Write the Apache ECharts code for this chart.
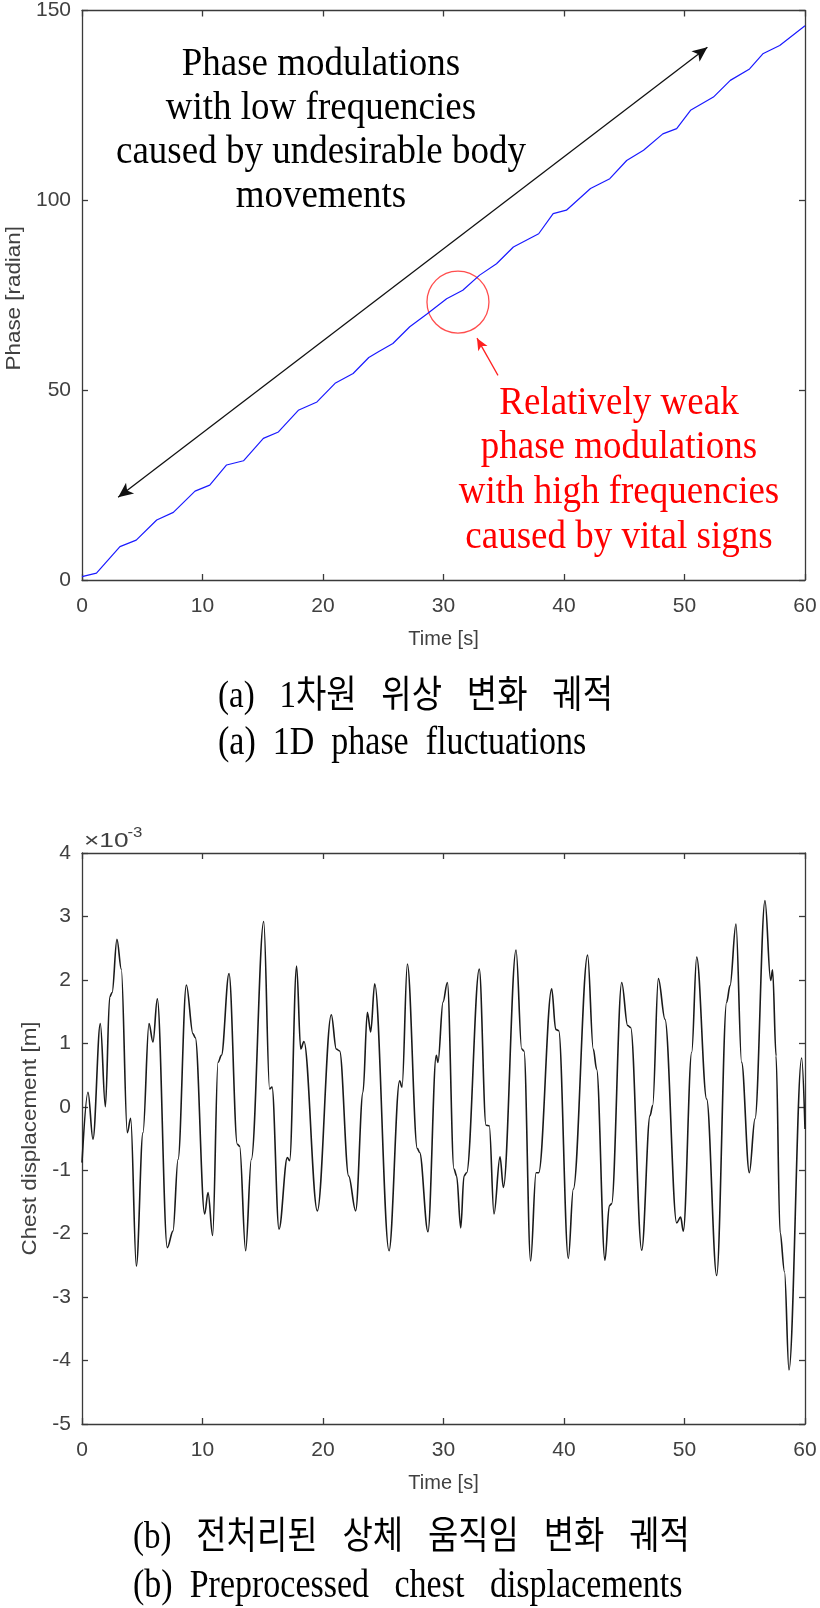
<!DOCTYPE html>
<html>
<head>
<meta charset="utf-8">
<script src="https://cdn.jsdelivr.net/npm/echarts@6/dist/echarts.min.js"></script>
<style>
html,body{margin:0;padding:0;background:#fff;}
#chart{width:820px;height:1608px;}
</style>
</head>
<body>
<div id="chart"></div>
<script>
// ---------- data (a): 1D phase [radian] vs time [s] ----------
var phaseTime  = [0, 1.2, 3.15, 4.5, 6.2, 7.58, 9.38, 10.6, 12.0, 13.4, 15.05, 16.3, 17.95, 19.5, 21.0, 22.5, 23.8, 24.6, 25.8, 27.2, 28.6, 30.26, 31.6, 33.0, 34.4, 35.8, 37.9, 39.1, 40.2, 42.2, 43.8, 45.2, 46.6, 48.2, 49.35, 50.5, 52.4, 53.8, 55.4, 56.5, 57.9, 60];
var phaseValue = [0.9, 1.8, 8.8, 10.5, 15.8, 17.8, 23.4, 25.0, 30.3, 31.4, 37.3, 39.0, 44.7, 46.9, 51.8, 54.4, 58.6, 60.1, 62.3, 66.7, 70.0, 74.1, 76.3, 80.3, 83.3, 87.7, 91.2, 96.5, 97.4, 103.1, 105.7, 110.5, 113.2, 117.5, 118.9, 123.7, 127.2, 131.6, 134.6, 138.6, 140.8, 146];

// ---------- data (b): chest displacement [x10^-3 m] vs time [s] ----------
var chestTime  = [0, 0.5, 0.91, 1.52, 1.94, 2.3, 2.5, 2.9, 3.26, 3.76, 4.04, 4.51, 5.06, 5.56, 5.89, 6.25, 7.08, 7.55, 7.97, 8.66, 9.21, 9.4, 10.18, 10.46, 10.84, 11.29, 11.57, 12.2, 12.89, 13.08, 13.58, 14.05, 15.08, 15.57, 15.77, 16.35, 17.04, 17.23, 17.81, 18.15, 18.42, 19.53, 20.69, 21.1, 21.38, 22.13, 22.71, 23.32, 23.68, 23.96, 24.29, 25.48, 26.36, 26.56, 27.0, 27.83, 28.02, 28.71, 29.4, 29.54, 29.96, 30.32, 30.87, 31.09, 31.43, 31.7, 31.92, 32.97, 33.53, 33.8, 34.19, 34.69, 34.97, 36.02, 36.49, 36.68, 37.23, 37.68, 37.9, 38.98, 39.31, 39.56, 40.36, 40.77, 41.96, 42.43, 42.71, 43.4, 43.76, 43.95, 44.79, 45.28, 45.53, 46.45, 47.14, 47.36, 47.83, 48.38, 49.35, 49.68, 49.9, 50.6, 51.01, 51.84, 52.67, 53.5, 53.78, 54.27, 54.74, 55.38, 55.85, 56.68, 57.15, 57.31, 57.6, 57.93, 58.3, 58.67, 59.72, 60];
var chestValue = [-0.88, 0.23, -0.51, 1.31, 0.0, 1.73, 1.8, 2.64, 2.17, -0.41, -0.18, -2.51, -0.41, 1.31, 1.02, 1.70, -2.22, -1.96, -0.83, 1.92, 1.15, 1.09, -1.69, -1.35, -2.03, 0.70, 0.81, 2.1, -0.59, -0.62, -2.27, -0.83, 2.92, 0.28, 0.31, -1.93, -0.8, -0.85, 2.22, 0.91, 1.03, -1.64, 1.45, 0.91, 0.88, -1.09, -1.64, 0.23, 1.49, 1.18, 1.94, -2.27, 0.41, 0.31, 2.25, -0.66, -0.72, -1.97, 0.81, 0.70, 1.65, 1.96, -0.98, -1.09, -1.91, -1.09, -1.04, 2.17, -0.29, -0.3, -1.69, -0.79, -1.27, 2.47, 0.91, 0.88, -2.43, -1.04, -1.04, 1.86, 1.22, 1.2, -2.39, -1.3, 2.39, 0.91, 0.59, -2.42, -1.56, -1.53, 1.96, 1.28, 1.25, -2.26, -0.14, 0.02, 2.02, 1.38, -1.83, -1.74, -1.96, 0.86, 2.36, 0.12, -2.66, 1.65, 1.91, 2.88, 0.70, -1.04, -0.19, 3.25, 1.99, 2.16, 0.8, -1.98, -2.6, -4.15, 0.77, -0.35];

// ---------- axes ticks ----------
var timeTicks = {min: 0, max: 60, interval: 10};
var phaseTicks = {min: 0, max: 150, interval: 50};
var chestTicks = {min: -5, max: 4, interval: 1};
var phaseAxisName = 'Phase [radian]';
var chestAxisName = 'Chest displacement [m]';
var timeAxisName = 'Time [s]';

// ---------- annotations (data coordinates of chart a) ----------
var bigArrow = [[3.0, 21.8], [51.9, 140.3]];
var redArrow = [[34.52, 53.9], [32.78, 63.7]];
var redCircle = [31.2, 73.2];
var blackNoteAt = [19.83, 118.4];
var redNoteAt = [44.56, 28.9];
var blackNote = 'Phase modulations\nwith low frequencies\ncaused by undesirable body\nmovements';
var redNote = 'Relatively weak\nphase modulations\nwith high frequencies\ncaused by vital signs';

var captionA1 = '(a)   1차원   위상   변화   궤적';
var captionA2 = '(a)  1D  phase  fluctuations';
var captionB1 = '(b)   전처리된   상체   움직임   변화   궤적';
var captionB2 = '(b)  Preprocessed   chest   displacements';

function zip(a, b) { return a.map(function (v, i) { return [v, b[i]]; }); }

var AX = '#3a3a3a', LBL = '#404040', SANS = 'Liberation Sans, Arial, sans-serif';
var SERIF = 'Liberation Serif, Times New Roman, serif';
var FS = 21;

function axisLineStyle() { return {onZero: false, lineStyle: {color: AX, width: 1.3}}; }
function tickStyle() { return {inside: true, length: 6, lineStyle: {color: AX, width: 1.3}}; }

function xAxes(grid) {
  return [
    {gridIndex: grid, type: 'value', min: timeTicks.min, max: timeTicks.max, interval: timeTicks.interval,
     name: timeAxisName, nameLocation: 'middle', nameGap: 49,
     nameTextStyle: {color: LBL, fontSize: 20, fontFamily: SANS},
     axisLine: axisLineStyle(), axisTick: tickStyle(),
     axisLabel: {margin: 16, color: LBL, fontSize: FS, fontFamily: SANS}, splitLine: {show: false}},
    {gridIndex: grid, type: 'value', position: 'top', min: timeTicks.min, max: timeTicks.max, interval: timeTicks.interval,
     axisLine: axisLineStyle(), axisTick: tickStyle(),
     axisLabel: {show: false}, splitLine: {show: false}}
  ];
}
function yAxes(grid, ticks) {
  return [
    {gridIndex: grid, type: 'value', min: ticks.min, max: ticks.max, interval: ticks.interval,
     axisLine: axisLineStyle(), axisTick: tickStyle(),
     axisLabel: {margin: 11, color: LBL, fontSize: FS, fontFamily: SANS}, splitLine: {show: false}},
    {gridIndex: grid, type: 'value', position: 'right', min: ticks.min, max: ticks.max, interval: ticks.interval,
     axisLine: axisLineStyle(), axisTick: tickStyle(),
     axisLabel: {show: false}, splitLine: {show: false}}
  ];
}

var chart = echarts.init(document.getElementById('chart'), null, {renderer: 'canvas'});
chart.setOption({
  animation: false,
  backgroundColor: '#fff',
  grid: [
    {left: 82, right: 15, top: 10, height: 570},
    {left: 82, right: 15, top: 853, height: 571}
  ],
  xAxis: xAxes(0).concat(xAxes(1)),
  yAxis: yAxes(0, phaseTicks).concat(yAxes(1, chestTicks)),
  series: [
    {type: 'line', xAxisIndex: 0, yAxisIndex: 0, data: zip(phaseTime, phaseValue), showSymbol: false,
     lineStyle: {color: '#1a1aff', width: 1.2}, silent: true,
     markLine: {silent: true, symbol: ['arrow', 'arrow'], symbolSize: [10, 15], label: {show: false},
       lineStyle: {color: '#111', width: 1.3, type: 'solid'},
       data: [[{coord: bigArrow[0]}, {coord: bigArrow[1]}]]}},
    {type: 'scatter', xAxisIndex: 0, yAxisIndex: 0, data: [redCircle], symbol: 'circle', symbolSize: 62, silent: true,
     itemStyle: {color: 'rgba(0,0,0,0)', borderColor: '#ff2020', borderWidth: 1.3},
     markLine: {silent: true, symbol: ['none', 'arrow'], symbolSize: [8, 12], label: {show: false},
       lineStyle: {color: '#ff2020', width: 1.3, type: 'solid'},
       data: [[{coord: redArrow[0]}, {coord: redArrow[1]}]]}},
    {type: 'line', xAxisIndex: 2, yAxisIndex: 2, data: zip(chestTime, chestValue), showSymbol: false,
     smooth: 0.35, smoothMonotone: 'x', lineStyle: {color: '#1a1a1a', width: 1.6}, silent: true}
  ]
});

var pB = chart.convertToPixel({gridIndex: 0}, blackNoteAt);
var pR = chart.convertToPixel({gridIndex: 0}, redNoteAt);
var pTop = chart.convertToPixel({gridIndex: 1}, [0, chestTicks.max]);
var aTop = chart.convertToPixel({gridIndex: 0}, [0, phaseTicks.max]);
var aBot = chart.convertToPixel({gridIndex: 0}, [0, phaseTicks.min]);
var bBot = chart.convertToPixel({gridIndex: 1}, [0, chestTicks.min]);

var ctx = document.createElement('canvas').getContext('2d');
ctx.font = '21px ' + SANS;
var expW = ctx.measureText('×10').width * 1.25;

chart.setOption({
  graphic: [
    {type: 'text', x: aTop[0] - 68, y: (aTop[1] + aBot[1]) / 2 + 3, rotation: Math.PI / 2, scaleX: 1.12, silent: true,
     style: {text: phaseAxisName, fill: LBL, font: '20px ' + SANS, align: 'center', verticalAlign: 'middle'}},
    {type: 'text', x: pTop[0] - 52, y: (pTop[1] + bBot[1]) / 2, rotation: Math.PI / 2, scaleX: 1.12, silent: true,
     style: {text: chestAxisName, fill: LBL, font: '20px ' + SANS, align: 'center', verticalAlign: 'middle'}},
    {type: 'text', x: pB[0], y: pB[1], scaleY: 1.08, silent: true,
     style: {text: blackNote, fill: '#000', font: '37px ' + SERIF, lineHeight: 41, align: 'center', verticalAlign: 'middle'}},
    {type: 'text', x: pR[0], y: pR[1], scaleY: 1.08, silent: true,
     style: {text: redNote, fill: '#ff0000', font: '37px ' + SERIF, lineHeight: 41.5, align: 'center', verticalAlign: 'middle'}},
    {type: 'text', x: pTop[0] + 2, y: pTop[1] - 12, scaleX: 1.25, silent: true,
     style: {text: '×10', fill: LBL, font: '21px ' + SANS, align: 'left', verticalAlign: 'middle'}},
    {type: 'text', x: pTop[0] + 1 + expW, y: pTop[1] - 20, scaleX: 1.2, silent: true,
     style: {text: '-3', fill: LBL, font: '14px ' + SANS, align: 'left', verticalAlign: 'middle'}},
    {type: 'text', x: 218, y: 697, scaleY: 1.15, silent: true,
     style: {text: captionA1, fill: '#000', font: '33px ' + SERIF + ', Noto Sans CJK KR', align: 'left', verticalAlign: 'middle'}},
    {type: 'text', x: 218, y: 744, scaleY: 1.15, silent: true,
     style: {text: captionA2, fill: '#000', font: '34px ' + SERIF, align: 'left', verticalAlign: 'middle'}},
    {type: 'text', x: 133, y: 1538, scaleY: 1.15, silent: true,
     style: {text: captionB1, fill: '#000', font: '33px ' + SERIF + ', Noto Sans CJK KR', align: 'left', verticalAlign: 'middle'}},
    {type: 'text', x: 133, y: 1587, scaleY: 1.15, silent: true,
     style: {text: captionB2, fill: '#000', font: '34px ' + SERIF, align: 'left', verticalAlign: 'middle'}}
  ]
});
</script>
</body>
</html>
